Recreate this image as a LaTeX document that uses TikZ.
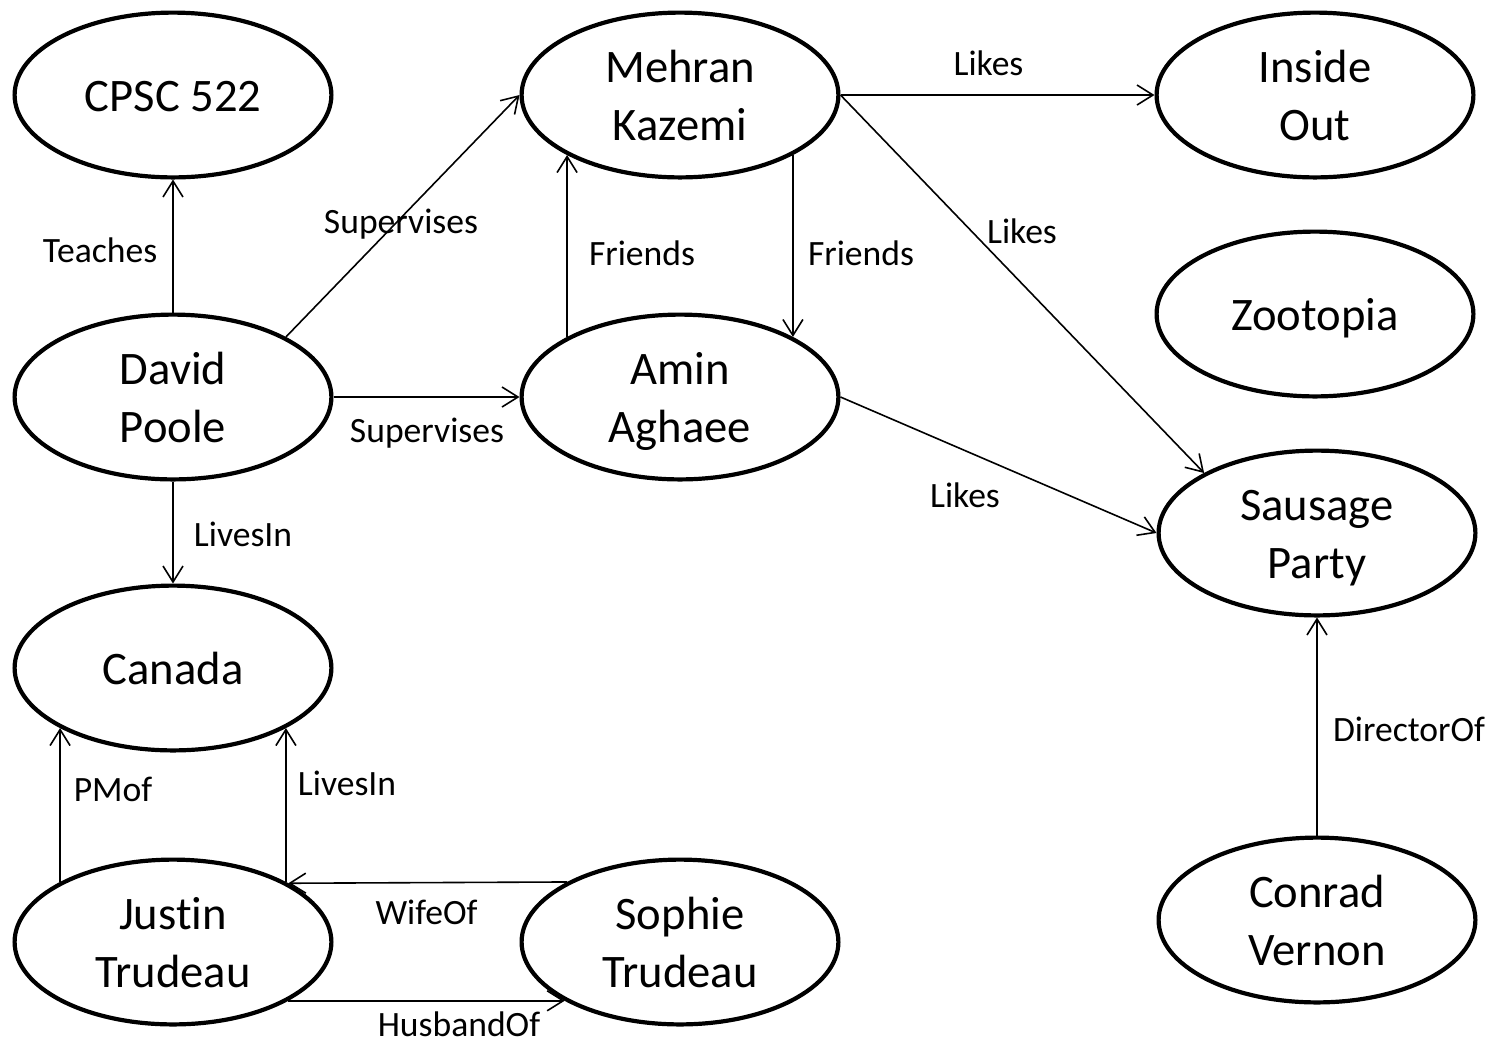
\documentclass[tikz,border=0pt]{standalone}
\usepackage{fontspec}
\setmainfont{Carlito}[Ligatures=NoCommon]
\usetikzlibrary{shapes.geometric,arrows.meta}
% fixed strut so every entity line sits at the same baseline
\newcommand{\nodestrut}{\rule[-4pt]{0pt}{24pt}}
\begin{document}
\begin{tikzpicture}[x=0.5pt,y=-0.5pt,
  entity/.style={ellipse,draw,line width=2.1pt,minimum width=158.4pt,minimum height=82.4pt,
    inner sep=0pt,align=center,font=\fontsize{23.3pt}{29pt}\selectfont},
  rel/.style={draw,line width=0.8pt,-{Straight Barb[length=8pt,width=10pt]}},
  lbl/.style={anchor=base,inner sep=0pt,font=\fontsize{17.8pt}{21pt}\selectfont}]
\useasboundingbox (0,0) rectangle (1499,1041);

% entities
\node[entity] (cpsc) at (173,95)  {\nodestrut CPSC 522};
\node[entity] (mk)   at (680,95)  {\nodestrut Mehran\\\nodestrut Kazemi};
\node[entity] (io)   at (1315,95) {\nodestrut Inside\\\nodestrut Out};
\node[entity] (dp)   at (173,397) {\nodestrut David\\\nodestrut Poole};
\node[entity] (aa)   at (680,397) {\nodestrut Amin\\\nodestrut Aghaee};
\node[entity] (zo)   at (1315,314) {\nodestrut Zootopia};
\node[entity] (sp)   at (1317,533) {\nodestrut Sausage\\\nodestrut Party};
\node[entity] (ca)   at (173,668) {\nodestrut Canada};
\node[entity] (jt)   at (173,942) {\nodestrut Justin\\\nodestrut Trudeau};
\node[entity] (sf)   at (680,942) {\nodestrut Sophie\\\nodestrut Trudeau};
\node[entity] (cv)   at (1317,920) {\nodestrut Conrad\\\nodestrut Vernon};

% relations
\draw[rel] (dp.north) -- (cpsc.south) node[lbl] (lTeach) at (100,262) {Teaches};
\draw[rel] (dp.28) -- (mk.west) node[lbl] (lSup1) at (401,233) {Supervises};
\draw[rel] (dp.east) -- (aa.west) node[lbl] (lSup2) at (427,442) {Supervises};
\draw[rel] (aa.152) -- (mk.208) node[lbl] (lFr1) at (642,265) {Friends};
\draw[rel] (mk.-28) -- (aa.28) node[lbl] (lFr2) at (861,265) {Friends};
\draw[rel] (mk.east) -- (io.west) node[lbl] (lLk1) at (988.5,75) {Likes};
\draw[rel] (mk.east) -- (sp.152) node[lbl] (lLk2) at (1022,243) {Likes};
\draw[rel] (aa.east) -- (sp.west) node[lbl] (lLk3) at (965,507) {Likes};
\draw[rel] (dp.south) -- (ca.north) node[lbl] (lLive1) at (243,546) {LivesIn};
\draw[rel] (cv.north) -- (sp.south) node[lbl] (lDir) at (1409,741) {DirectorOf};
\draw[rel] (jt.152) -- (ca.208) node[lbl] (lPM) at (113,801) {PMof};
\draw[rel] (jt.28) -- (ca.-28) node[lbl] (lLive2) at (347,795) {LivesIn};
\draw[rel] (sf.152.8) -- (jt.27.2) node[lbl] (lWife) at (426.5,924) {WifeOf};
\draw[rel] (jt.-27.2) -- (sf.207.2) node[lbl] (lHus) at (459,1036) {HusbandOf};
\end{tikzpicture}
\end{document}
